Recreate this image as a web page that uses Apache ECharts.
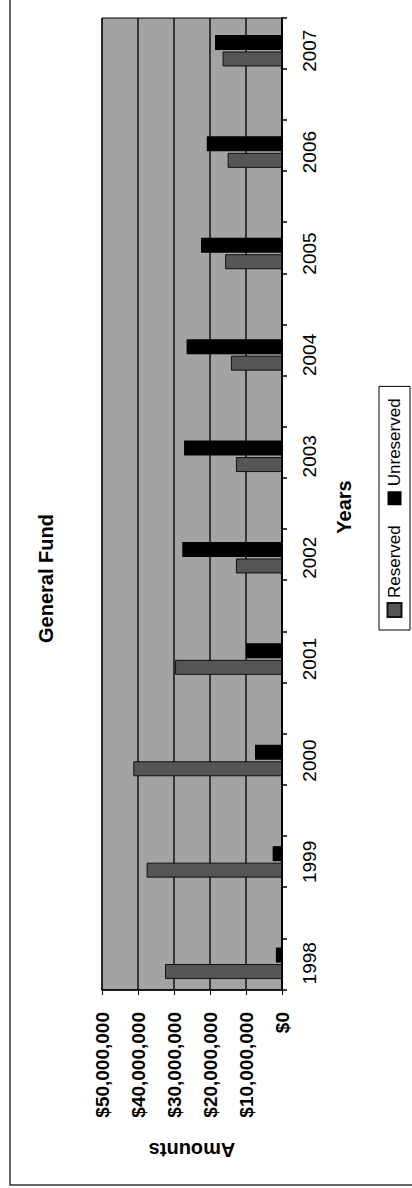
<!DOCTYPE html>
<html>
<head>
<meta charset="utf-8">
<script src="https://cdn.jsdelivr.net/npm/echarts@6/dist/echarts.min.js"></script>
<style>
html,body{margin:0;padding:0;background:#fff;width:412px;height:1188px;overflow:hidden;}
#wrap{position:absolute;left:0;top:0;width:1188px;height:412px;transform-origin:0 0;transform:translate(0,1188px) rotate(-90deg);}
</style>
</head>
<body>
<div id="wrap"></div>
<script>
const years = ['1998','1999','2000','2001','2002','2003','2004','2005','2006','2007'];
const reserved = [32500000, 37600000, 41300000, 29700000, 12800000, 12800000, 14200000, 15800000, 15100000, 16500000];
const unreserved = [1700000, 2600000, 7500000, 10000000, 27700000, 27200000, 26500000, 22500000, 20900000, 18600000];
const valueMin = 0, valueMax = 50000000, valueStep = 10000000;

const FONT = 'Liberation Sans';
const chart = echarts.init(document.getElementById('wrap'), null, {renderer:'svg', width:1188, height:412});
chart.setOption({
  animation:false,
  backgroundColor:'#fff',
  textStyle:{fontFamily:FONT},
  title:{text:'General Fund', left:540, top:31, textStyle:{fontFamily:FONT, fontSize:20, fontWeight:'bold', color:'#000'}},
  graphic:[{type:'rect', z:-10, shape:{x:3, y:10, width:1200, height:420}, style:{fill:'none', stroke:'#333', lineWidth:1.5}}],
  legend:{
    data:['Reserved','Unreserved'], orient:'horizontal', left:558, top:379,
    backgroundColor:'#fff', borderColor:'#000', borderWidth:1, padding:[7,12],
    itemWidth:14, itemHeight:14, itemGap:20, icon:'rect',
    textStyle:{fontFamily:FONT, fontSize:17, color:'#000'}
  },
  grid:[
    {left:198, top:102, width:972, height:180, show:true, backgroundColor:'#a3a3a3', borderColor:'#000', borderWidth:1},
    {left:174, top:102, width:1021, height:180}
  ],
  xAxis:[
    {gridIndex:0, type:'value', min:0, max:19, interval:1,
     axisLine:{show:true, lineStyle:{color:'#000', width:2}},
     axisTick:{show:true, length:5, lineStyle:{color:'#000', width:1.5}},
     axisLabel:{show:false}, splitLine:{show:false}},
    {gridIndex:1, type:'category', data:years,
     axisLine:{show:false}, axisTick:{show:false},
     axisLabel:{margin:18, fontFamily:FONT, fontSize:19, color:'#000'},
     name:'Years', nameLocation:'middle', nameGap:52,
     nameTextStyle:{fontFamily:FONT, fontSize:20, fontWeight:'bold', color:'#000'}}
  ],
  yAxis:[
    {gridIndex:0, type:'value', min:valueMin, max:valueMax, interval:valueStep,
     axisLine:{show:true, lineStyle:{color:'#000', width:1.5}},
     axisTick:{show:true, length:5, lineStyle:{color:'#000'}},
     axisLabel:{margin:22, fontFamily:FONT, fontSize:19, fontWeight:'bold', color:'#000',
       formatter:v => '$' + v.toLocaleString('en-US')},
     splitLine:{show:true, lineStyle:{color:'#111', width:1.5}},
     name:'Amounts', nameLocation:'middle', nameGap:150,
     nameTextStyle:{fontFamily:FONT, fontSize:20, fontWeight:'bold', color:'#000'}},
    {gridIndex:1, type:'value', min:valueMin, max:valueMax, interval:valueStep, show:false, splitLine:{show:false}}
  ],
  series:[
    {name:'Reserved', type:'bar', xAxisIndex:1, yAxisIndex:1, data:reserved, barWidth:15, barGap:'10%',
     itemStyle:{color:'#555', borderColor:'#111', borderWidth:1}},
    {name:'Unreserved', type:'bar', xAxisIndex:1, yAxisIndex:1, data:unreserved, barWidth:15, barGap:'10%',
     itemStyle:{color:'#000'}}
  ]
});
</script>
</body>
</html>
